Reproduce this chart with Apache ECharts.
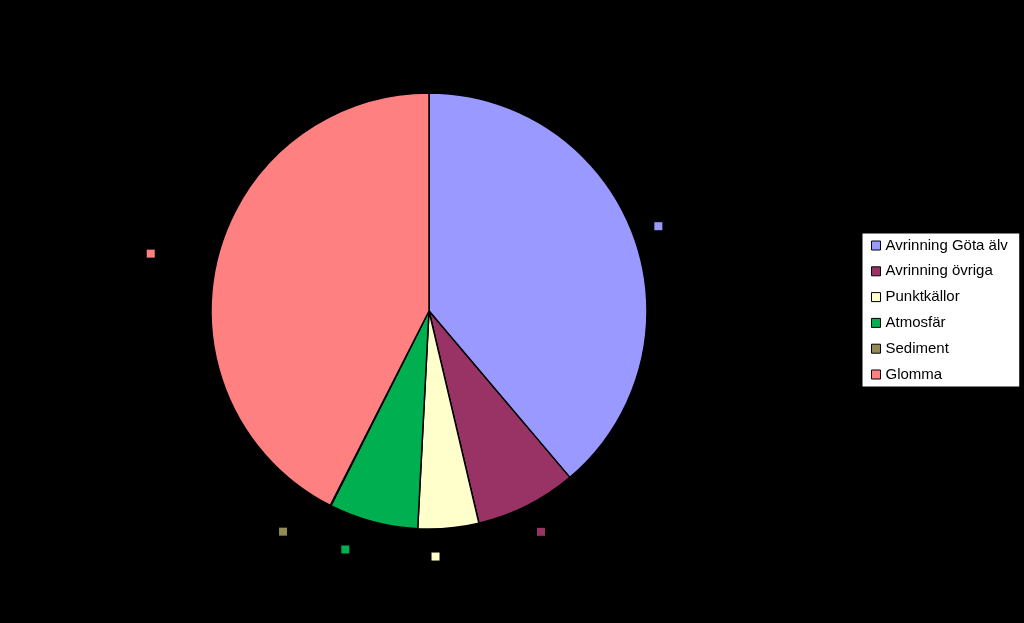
<!DOCTYPE html>
<html><head><meta charset="utf-8">
<script src="https://cdn.jsdelivr.net/npm/echarts@6/dist/echarts.min.js"></script>
<style>html,body{margin:0;padding:0;background:#000;} #c{width:1024px;height:623px;}</style>
</head><body><div id="c"></div>
<script>
const categories = ['Avrinning Göta älv', 'Avrinning övriga', 'Punktkällor', 'Atmosfär', 'Sediment', 'Glomma'];
const values = [38.8, 7.5, 4.5, 6.6, 0.05, 42.5];
const colors = ['#9999FF', '#993366', '#FFFFCC', '#00B050', '#948A54', '#FF8080'];

const total = values.reduce((a, b) => a + b, 0);
const data = categories.map((name, i) => ({
  name: name,
  value: values[i],
  itemStyle: { color: colors[i] },
  label: {
    rich: {
      s: { width: 8, height: 8, backgroundColor: colors[i] },
      t: { color: '#000', fontSize: 13, fontFamily: 'Liberation Sans, Arial, sans-serif', padding: [0, 0, 0, 4] }
    }
  }
}));

// Place each label box outside the slice edge, Excel-style, from the library's own label-line geometry
function placeLabel(p) {
  const pts = p.labelLinePoints;
  if (!pts || pts.length < 2) return {};
  const dx = pts[1][0] - pts[0][0], dy = pts[1][1] - pts[0][1];
  const len = Math.hypot(dx, dy) || 1;
  const ux = dx / len, uy = dy / len;
  const gap = 22;
  const px = pts[0][0] + ux * gap, py = pts[0][1] + uy * gap;
  const w = p.labelRect.width, h = p.labelRect.height;
  const fx = Math.abs(ux) > 0.4 ? Math.sign(ux) : ux;
  const fy = Math.abs(uy) > 0.4 ? Math.sign(uy) : uy;
  const cx = px + fx * w / 2, cy = py + fy * h / 2;
  return { x: cx - w / 2, y: cy, align: 'left', verticalAlign: 'middle' };
}

const chart = echarts.init(document.getElementById('c'), null, { renderer: 'canvas' });
chart.setOption({
  backgroundColor: '#000',
  animation: false,
  color: colors,
  legend: {
    orient: 'vertical',
    left: 862,
    top: 233,
    backgroundColor: '#fff',
    borderColor: '#000',
    borderWidth: 1,
    padding: [4, 12, 4, 9],
    itemGap: 8.8,
    itemWidth: 9,
    itemHeight: 9,
    icon: 'rect',
    itemStyle: { borderColor: '#000', borderWidth: 1 },
    textStyle: { color: '#000', fontSize: 15, lineHeight: 17, fontFamily: 'Liberation Sans, Arial, sans-serif' },
    data: categories
  },
  series: [{
    type: 'pie',
    center: [429, 311],
    radius: 218,
    startAngle: 90,
    clockwise: true,
    avoidLabelOverlap: false,
    emphasis: { disabled: true },
    itemStyle: { borderColor: '#000', borderWidth: 1.5 },
    label: {
      show: true,
      position: 'outside',
      formatter: function (p) {
        const pct = (p.value / total * 100).toFixed(1).replace('.', ',') + '%';
        return '{s|}{t|' + pct + '}';
      }
    },
    labelLine: { show: true, length: 20, length2: 0, lineStyle: { color: '#000', width: 0, opacity: 0 } },
    labelLayout: placeLabel,
    data: data
  }]
});
</script></body></html>
